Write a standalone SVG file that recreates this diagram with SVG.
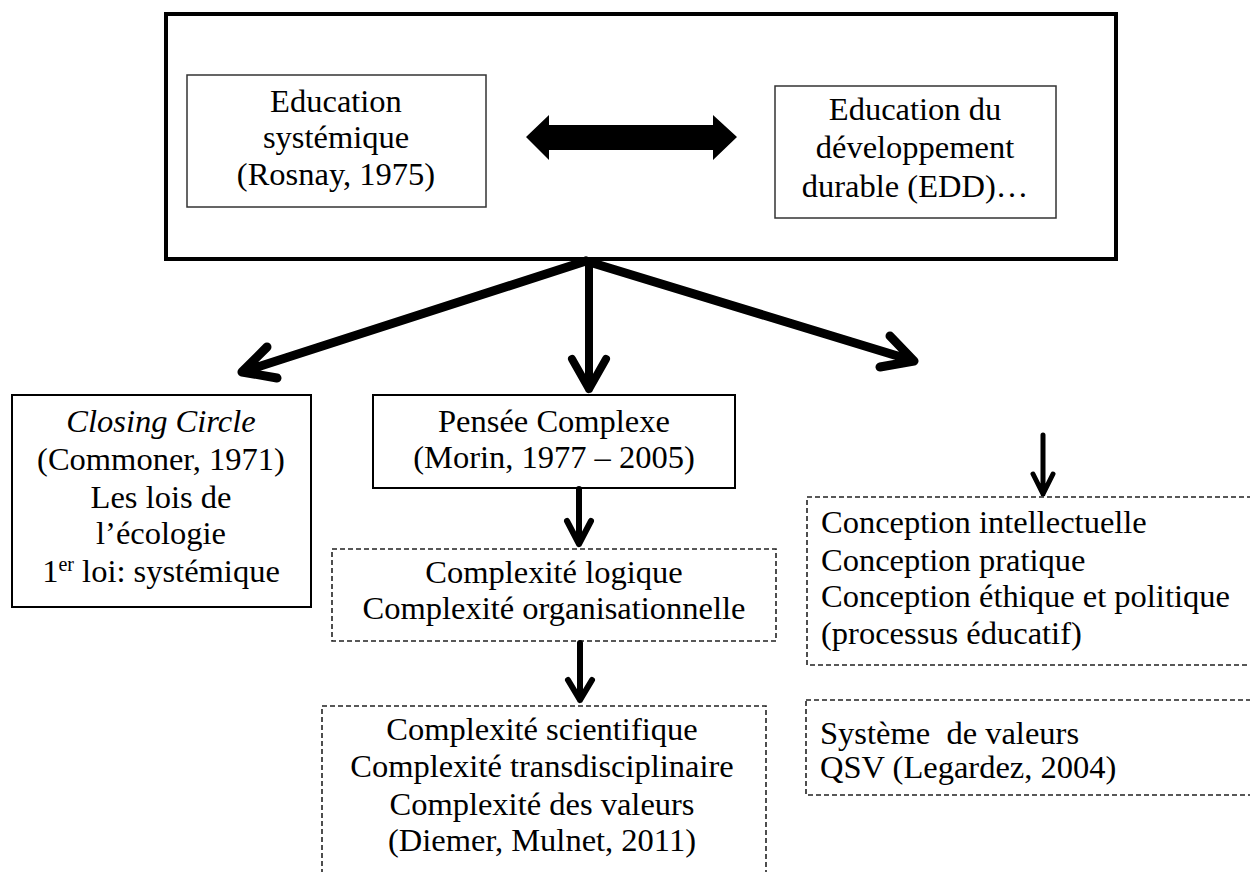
<svg xmlns="http://www.w3.org/2000/svg" width="1250" height="872" viewBox="0 0 1250 872">
<style>
text{font-family:"Liberation Serif","Times New Roman",serif;font-size:32.5px;fill:#000}
.c{text-anchor:middle}
.box{fill:#fff;stroke:#000}
.thin{fill:#fff;stroke:#333;stroke-width:1.5}
.dash{fill:none;stroke:#222;stroke-width:1.6;stroke-dasharray:5 3}
.arr{fill:none;stroke:#000;stroke-linejoin:round;stroke-linecap:round}
</style>
<rect width="1250" height="872" fill="#fff"/>
<g id="top">
<rect class="box" x="166" y="14" width="950" height="245" stroke-width="4"/>
</g>
<g id="edu-systemique">
<rect class="thin" x="187" y="75" width="299" height="132"/>
<text class="c" x="336" y="112">Education</text>
<text class="c" x="336" y="148">systémique</text>
<text class="c" x="336" y="185">(Rosnay, 1975)</text>
</g>
<g id="edd">
<rect class="thin" x="775" y="86" width="281" height="132"/>
<text class="c" x="915" y="120">Education du</text>
<text class="c" x="915" y="158">développement</text>
<text class="c" x="915" y="197">durable (EDD)…</text>
</g>
<g id="closing-circle">
<rect class="box" x="12" y="395" width="299" height="212" stroke-width="2"/>
<text class="c" x="161" y="432" font-style="italic">Closing Circle</text>
<text class="c" x="161" y="470">(Commoner, 1971)</text>
<text class="c" x="161" y="508">Les lois de</text>
<text class="c" x="161" y="544">l’écologie</text>
<text class="c" x="161" y="582">1<tspan font-size="20" dy="-11">er</tspan><tspan dy="11"> loi: systémique</tspan></text>
</g>
<g id="pensee-complexe">
<rect class="box" x="373" y="395" width="362" height="93" stroke-width="2"/>
<text class="c" x="554" y="432">Pensée Complexe</text>
<text class="c" x="554" y="468">(Morin, 1977 – 2005)</text>
</g>
<g id="complexite-1">
<rect class="dash" x="332" y="549" width="444" height="92"/>
<text class="c" x="554" y="583">Complexité logique</text>
<text class="c" x="554" y="619">Complexité organisationnelle</text>
</g>
<g id="complexite-2">
<rect class="dash" x="322" y="706" width="444" height="200"/>
<text class="c" x="542" y="740">Complexité scientifique</text>
<text class="c" x="542" y="777">Complexité transdisciplinaire</text>
<text class="c" x="542" y="815">Complexité des valeurs</text>
<text class="c" x="542" y="851">(Diemer, Mulnet, 2011)</text>
</g>
<g id="conception">
<rect class="dash" x="807" y="497" width="460" height="168"/>
<text x="821" y="533">Conception intellectuelle</text>
<text x="821" y="571">Conception pratique</text>
<text x="821" y="607">Conception éthique et politique</text>
<text x="821" y="644">(processus éducatif)</text>
</g>
<g id="valeurs">
<rect class="dash" x="806" y="700" width="460" height="95"/>
<text x="820" y="744" xml:space="preserve">Système  de valeurs</text>
<text x="820" y="778">QSV (Legardez, 2004)</text>
</g>
<g id="connectors">
<polygon points="526,137 549,115 549,125 713,125 713,115 737,137 713,160 713,150 549,150 549,160" fill="#000"/>
<path class="arr" stroke-width="9" d="M586,261 L242,372 M267,347 L242,372 L277,378"/>
<path class="arr" stroke-width="8" d="M589,261 L589,389 M572,359 L589,389 L606,359"/>
<path class="arr" stroke-width="9" d="M586,261 L914,361 M890,336 L914,361 L880,367"/>
<path class="arr" stroke-width="6" d="M579,489 L579,544 M567,521 L579,544 L591,521"/>
<path class="arr" stroke-width="6" d="M580,643 L580,700 M568,680 L580,700 L592,680"/>
<path class="arr" stroke-width="5" d="M1043,435 L1043,494 M1033,474 L1043,494 L1053,474"/>
</g>
</svg>
